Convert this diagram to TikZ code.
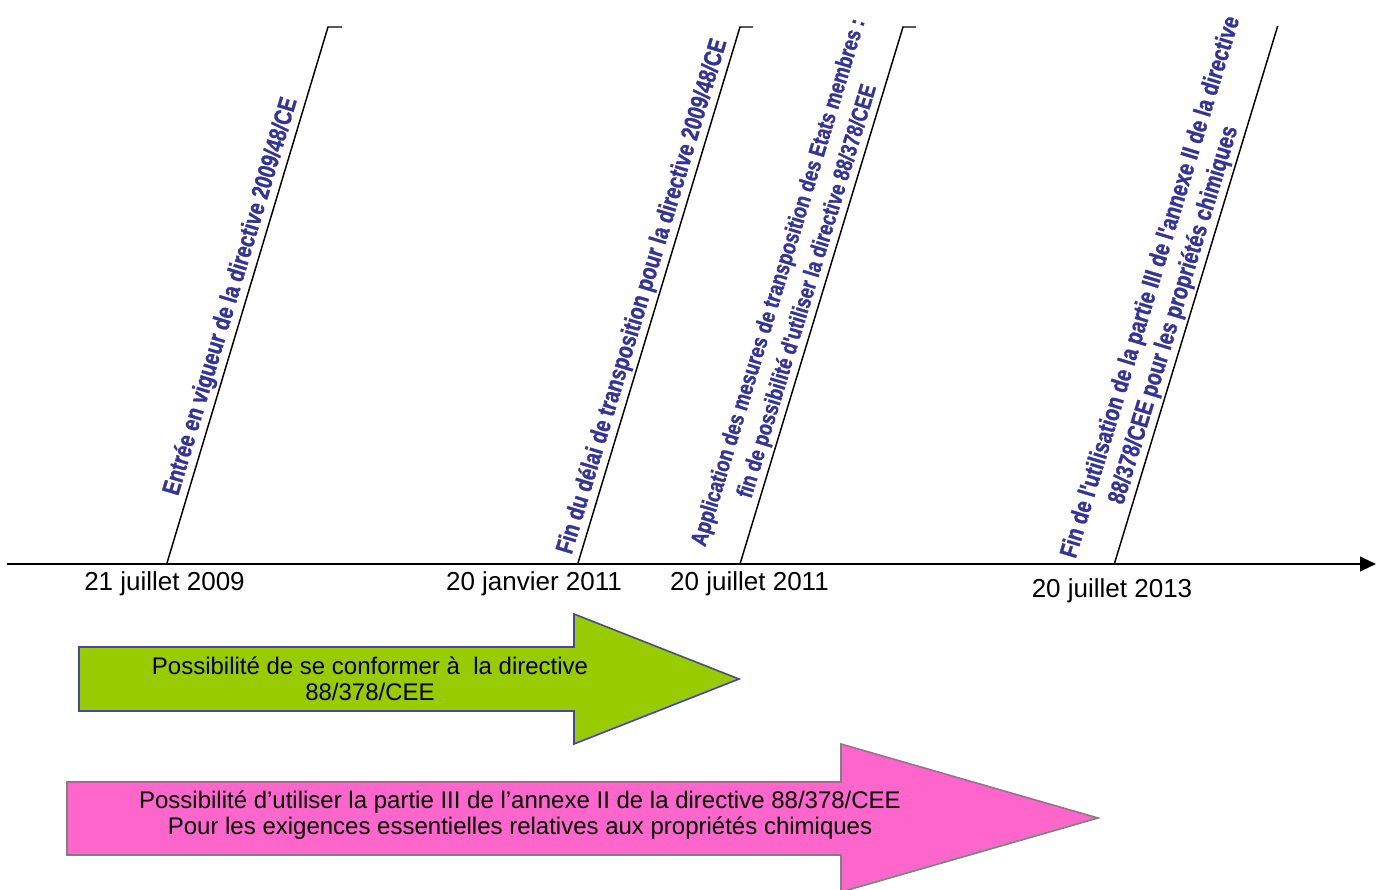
\documentclass[tikz,border=0pt]{standalone}
\usepackage{fontspec}
\setmainfont{Liberation Sans}
\newfontfamily\evtfont{Liberation Sans Bold}[FakeStretch=0.80, FakeBold=1.2]
\usetikzlibrary{arrows.meta}
\definecolor{evtblue}{RGB}{51,51,153}
\definecolor{conformgreen}{RGB}{153,204,0}
\definecolor{usagepink}{RGB}{255,102,204}
\definecolor{edgeblue}{RGB}{70,70,170}

\begin{document}
\begin{tikzpicture}[x=0.75pt,y=-0.75pt]

\tikzset{marker/.style = {line width=1.1pt}}
\tikzset{evt/.style = {sloped, above=2pt, inner sep=0pt, align=center, text=evtblue, font=\evtfont\fontsize{18.5}{22.5}\selectfont}}
\tikzset{date/.style = {anchor=base, font=\fontsize{19.5}{23}\selectfont}}
\tikzset{band/.style = {align=center, font=\fontsize{18}{19.5}\selectfont}}

\useasboundingbox (0,0) rectangle (1385,889);

%time axis
\coordinate (start) at (7,564);
\coordinate (end) at (1376,564);
\draw [line width=1.5pt, -{Triangle[length=12pt,width=11pt]}] (start) -- (end);

%events
\coordinate (b1) at (166.7,564); \coordinate (t1) at (328,27);  \coordinate (k1) at (342,27);
\coordinate (b2) at (577.7,564); \coordinate (t2) at (740,27);  \coordinate (k2) at (753,27);
\coordinate (b3) at (740,564);   \coordinate (t3) at (903,27);  \coordinate (k3) at (916,27);
\coordinate (b4) at (1114.3,564); \coordinate (t4) at (1277.7,26);

\draw [marker] (b1) -- (t1) node (e1) [evt, pos=0.49] {Entrée en vigueur de la directive 2009/48/CE} -- (k1);
\draw [marker] (b2) -- (t2) node (e2) [evt, pos=0.49] {Fin du délai de transposition pour la directive 2009/48/CE} -- (k2);
\draw [marker] (b3) -- (t3) node (e3) [evt, pos=0.5, font=\evtfont\fontsize{17.2}{22.5}\selectfont] {Application des mesures de transposition des Etats membres :\\fin de possibilité d'utiliser la directive 88/378/CEE} -- (k3);
\draw [marker] (b4) -- (t4) node (e4) [evt, pos=0.49] {Fin de l'utilisation de la partie III de l'annexe II de la directive\\88/378/CEE pour les propriétés chimiques\hspace*{30pt}};

%dates
\node (d1) [date] at (164.5,590) {21 juillet 2009};
\node (d2) [date] at (534,590) {20 janvier 2011};
\node (d3) [date] at (749.5,590) {20 juillet 2011};
\node (d4) [date] at (1112,597) {20 juillet 2013};

%periods
\draw [fill=conformgreen, draw=edgeblue, line width=1.2pt] (79,647) -- (574,647) -- (574,614) -- (739,679) -- (574,744) -- (574,711) -- (79,711) -- cycle;
\node (g) [band] at (370,679) {Possibilité de se conformer à~ la directive\\88/378/CEE};

\draw [fill=usagepink, draw=gray, line width=1.2pt] (67,782) -- (841,782) -- (841,744) -- (1098,818) -- (841,892) -- (841,855) -- (67,855) -- cycle;
\node (p) [band] at (520,815) {Possibilité d’utiliser la partie III de l’annexe II de la directive 88/378/CEE\\Pour les exigences essentielles relatives aux propriétés chimiques};

\end{tikzpicture}
\end{document}
